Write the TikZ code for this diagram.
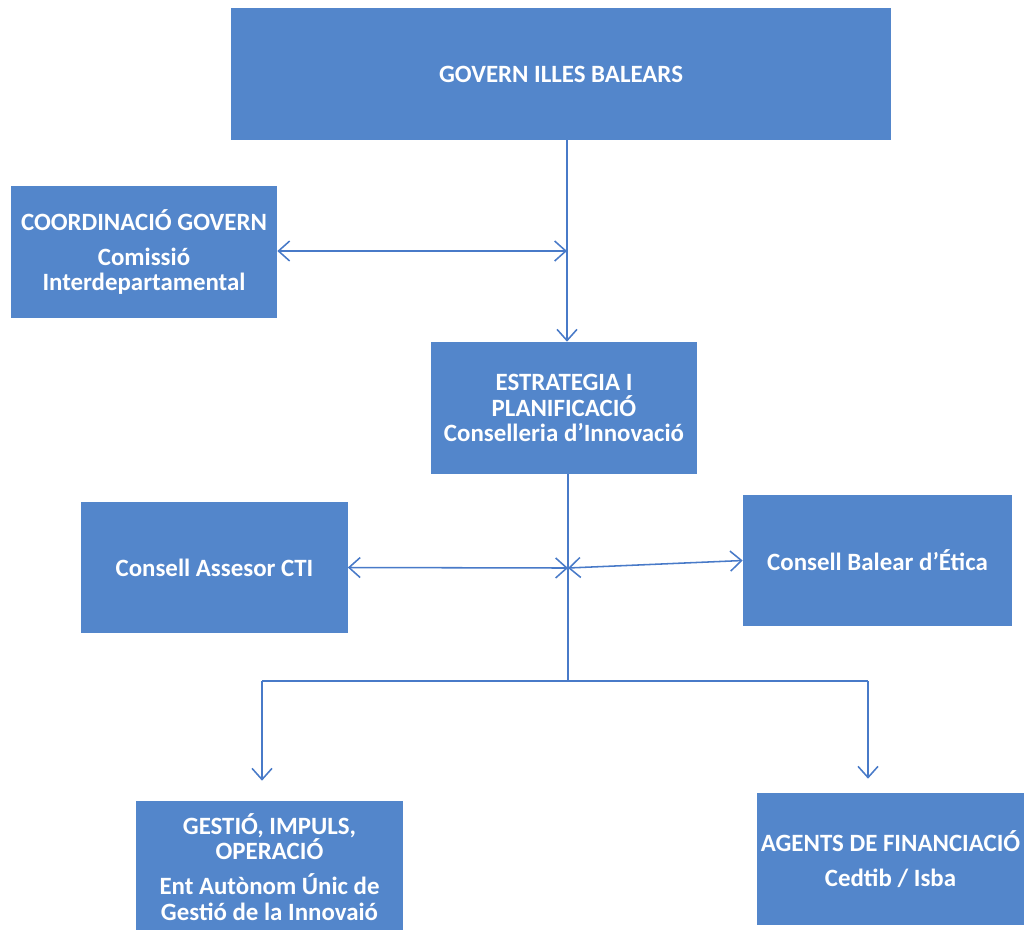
\documentclass[tikz,border=0pt]{standalone}
\usepackage{fontspec}
\setmainfont{Carlito}
\usepackage{xcolor}
\definecolor{orgblue}{RGB}{83,134,203}
\definecolor{lineblue}{RGB}{72,122,200}
\usetikzlibrary{arrows.meta}
\usetikzlibrary{positioning}
\tikzset{orgbox/.style={fill=orgblue, draw=none, text=white, align=center, inner sep=0pt,
		font=\fontsize{17.7}{18}\selectfont\bfseries, minimum width=6.65cm, minimum height=3.3cm},
	conn/.style={draw=lineblue, line width=1.1pt}}

\begin{document}
\begin{tikzpicture}[x=0.025cm, y=-0.025cm]
	\useasboundingbox (0,0) rectangle (1024,929);
	
	% top
	\node[orgbox, minimum width=16.5cm] (govern) at (561,74) {GOVERN ILLES BALEARS};
	
	% left and middle
	\node[orgbox] (coord) at (144,252) {COORDINACIÓ GOVERN\\[7pt] Comissió\\ Interdepartamental};
	\node[orgbox] (estrat) at (564,408) {ESTRATEGIA I\\ PLANIFICACIÓ\\ Conselleria d’Innovació};
	
	% advisory boards
	\node[orgbox, minimum height=3.275cm] (assesor) at (214.5,567.5) {Consell Assesor CTI};
	\node[orgbox, minimum width=6.725cm, minimum height=3.275cm] (etica) at (877.5,560.5) {Consell Balear d’Ética};
	
	% bottom
	\node[orgbox] (gestio) at (269.5,867) {GESTIÓ, IMPULS,\\ OPERACIÓ\\[7pt] Ent Autònom Únic de\\ Gestió de la Innovaió};
	\node[orgbox] (agents) at (890.5,859) {AGENTS DE FINANCIACIÓ\\[7pt] Cedtib / Isba};
	
	% junctions
	\coordinate (jtop) at (567,251);
	\coordinate (jmid) at (568,568);
	\coordinate (jbot) at (568,681);
	\coordinate (jleft) at (262,681);
	\coordinate (jright) at (868,681);
	
	% connectors
	\draw[conn, -{Straight Barb[length=0.28cm,width=0.5cm]}] (govern.south -| jtop) -- (jtop |- estrat.north);
	\draw[conn, {Straight Barb[length=0.28cm,width=0.5cm]}-{Straight Barb[length=0.28cm,width=0.5cm]}] (coord.east |- jtop) -- (jtop);
	\draw[conn] (estrat.south -| jmid) -- (jbot);
	\draw[conn, {Straight Barb[length=0.28cm,width=0.5cm]}-{Straight Barb[length=0.28cm,width=0.5cm]}] (assesor.east) -- (jmid);
	\draw[conn, {Straight Barb[length=0.28cm,width=0.5cm]}-{Straight Barb[length=0.28cm,width=0.5cm]}] (jmid) -- (etica.west);
	\draw[conn] (jleft) -- (jbot) -- (jright);
	\draw[conn, -{Straight Barb[length=0.28cm,width=0.5cm]}, shorten >=0.5cm] (jleft) -- (jleft |- gestio.north);
	\draw[conn, -{Straight Barb[length=0.28cm,width=0.5cm]}, shorten >=0.35cm] (jright) -- (jright |- agents.north);
\end{tikzpicture}
\end{document}
